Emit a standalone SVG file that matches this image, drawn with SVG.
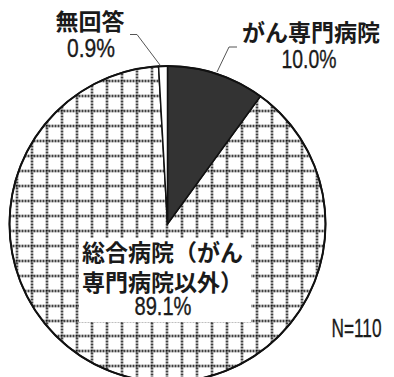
<svg xmlns="http://www.w3.org/2000/svg" width="394" height="377" viewBox="0 0 394 377">
<style>
.jp{font-family:"Noto Sans CJK JP","Noto Sans",sans-serif;font-size:23px;font-weight:bold;fill:#1a1a1a}
.num{font-family:"Liberation Sans",Arial,sans-serif;font-size:26px;fill:#1a1a1a;stroke:#1a1a1a;stroke-width:0.35}
.lead{fill:none;stroke:#555;stroke-width:1}
.edge{stroke:#111;stroke-width:1.5}
</style>
<defs>
<pattern id="grid" patternUnits="userSpaceOnUse" x="-5.5" y="-1.5" width="15" height="15">
<rect width="15" height="15" fill="#fff"/>
<line x1="7.5" y1="0" x2="7.5" y2="15" stroke="#000" stroke-width="2" stroke-dasharray="2 1"/>
<line x1="0" y1="7.5" x2="15" y2="7.5" stroke="#000" stroke-width="2" stroke-dasharray="2 1"/>
</pattern>
</defs>
<g id="slice-general">
<path class="edge" d="M167.5,224 L260.4,96.2 A158,158 0 1 1 158.57,66.25 Z" fill="url(#grid)"/>
</g>
<g id="slice-cancer">
<path class="edge" d="M167.5,224 L167.5,66 A158,158 0 0 1 260.4,96.2 Z" fill="#333"/>
</g>
<g id="slice-none">
<path class="edge" d="M167.5,224 L158.57,66.25 A158,158 0 0 1 167.5,66 Z" fill="#fff"/>
</g>
<circle cx="167.5" cy="224" r="158" fill="none" stroke="#111" stroke-width="2"/>
<g id="connectors">
<polyline class="lead" points="130,34.5 137,34.5 160,65"/>
<polyline class="lead" points="237,47 229,47 217,72"/>
</g>
<g id="label-none">
<text class="jp" x="90" y="30" text-anchor="middle">無回答</text>
<text class="num" x="91" y="57" text-anchor="middle" textLength="48" lengthAdjust="spacingAndGlyphs">0.9%</text>
</g>
<g id="label-cancer">
<text class="jp" x="311" y="41" text-anchor="middle">がん専門病院</text>
<text class="num" x="309" y="68" text-anchor="middle" textLength="55" lengthAdjust="spacingAndGlyphs">10.0%</text>
</g>
<g id="label-general">
<rect x="79" y="238" width="172" height="84" fill="#fff"/>
<text class="jp" x="82" y="261">総合病院（がん</text>
<text class="jp" x="82" y="291">専門病院以外）</text>
<text class="num" x="163" y="315" text-anchor="middle" textLength="57" lengthAdjust="spacingAndGlyphs">89.1%</text>
</g>
<g id="label-n">
<text class="num" x="381.5" y="337" text-anchor="end" textLength="50" lengthAdjust="spacingAndGlyphs">N=110</text>
</g>
</svg>
